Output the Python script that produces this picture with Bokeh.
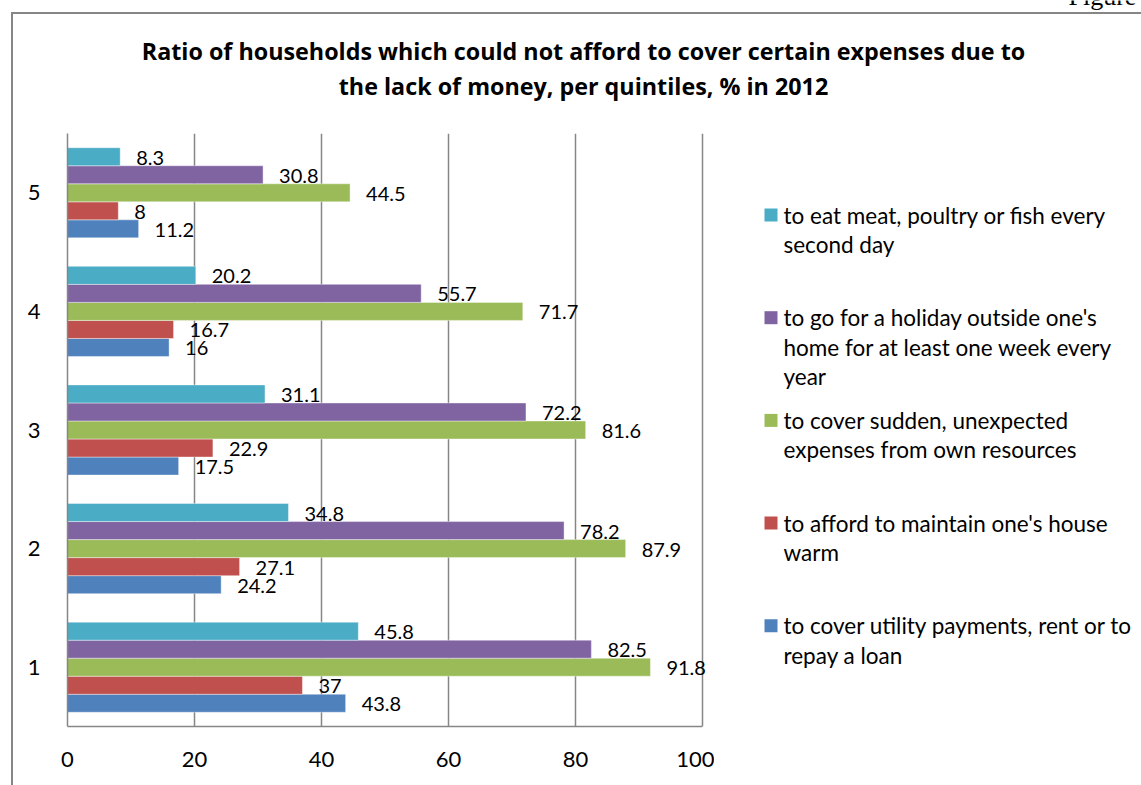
from bokeh.plotting import figure
from bokeh.layouts import column, row
from bokeh.models import Range1d, LabelSet, ColumnDataSource
from bokeh.transform import dodge
from bokeh.core.properties import value
from bokeh.embed import file_html
from bokeh.resources import INLINE

# ---- data ----
quintiles = [1, 2, 3, 4, 5]
quintile_labels = ["1", "2", "3", "4", "5"]
utility = [43.8, 24.2, 17.5, 16, 11.2]
warm = [37, 27.1, 22.9, 16.7, 8]
sudden = [91.8, 87.9, 81.6, 71.7, 44.5]
holiday = [82.5, 78.2, 72.2, 55.7, 30.8]
meat = [45.8, 34.8, 31.1, 20.2, 8.3]
x_ticks = [0, 20, 40, 60, 80, 100]

series = [utility, warm, sudden, holiday, meat]
series_names = [
    "to cover utility payments, rent or to\nrepay a loan",
    "to afford to maintain one's house\nwarm",
    "to cover sudden, unexpected\nexpenses from own resources",
    "to go for a holiday outside one's\nhome for at least one week every\nyear",
    "to eat meat, poultry or fish every\nsecond day",
]
colors = ["#4F81BD", "#C0504D", "#9BBB59", "#8064A2", "#4BACC6"]
title_lines = ["Ratio of households which could not afford to cover certain expenses due to",
               "the lack of money, per quintiles, % in 2012"]
page_text = "Figure"

FONT = "Lato"
TITLE_FONT = "Open Sans"
GRAY = "#868686"

# ---- layout (pixels) ----
W, H = 1141, 785
PLOT_L, PLOT_R, PLOT_T, PLOT_B = 67, 702, 133, 726
EXTRA_R = 12                       # room so value labels near 100 are not clipped
px_per_unit = (PLOT_R - PLOT_L) / 100.0
frame_w = PLOT_R - PLOT_L + EXTRA_R
chart_w = PLOT_L + frame_w
frame_h = PLOT_B - PLOT_T


def bare(x0, x1, y0, y1, **kw):
    f = figure(x_range=Range1d(x0, x1), y_range=Range1d(y0, y1),
               x_axis_type=None, y_axis_type=None, title=None,
               output_backend="svg", toolbar_location=None, **kw)
    f.outline_line_color = None
    f.background_fill_color = None
    f.border_fill_color = None
    f.xgrid.visible = False
    f.ygrid.visible = False
    return f


# ---- header: title (pixel coordinates, y downwards) ----
head = bare(0, W, PLOT_T, 0, frame_width=W, frame_height=PLOT_T, min_border=0)
TITLE_CX, TITLE_Y0, TITLE_DY = 583, 50, 35
head.text(x=[TITLE_CX] * len(title_lines),
          y=[TITLE_Y0 + TITLE_DY * k for k in range(len(title_lines))],
          text=title_lines, text_align="center", text_baseline="middle",
          text_font=value(TITLE_FONT), text_font_style="bold", text_font_size="23.3px",
          text_color="black")
head.text(x=[1068], y=[10], text=[page_text], text_align="left", text_baseline="bottom",
          text_font=value("Liberation Serif"), text_font_size="26px", text_color="black")

# ---- chart ----
p = figure(frame_width=frame_w, frame_height=frame_h, title=None,
           min_border_left=PLOT_L, min_border_right=0,
           min_border_top=0, min_border_bottom=H - PLOT_B,
           x_range=Range1d(0, 100 + EXTRA_R / px_per_unit), y_range=Range1d(0.5, 5.5),
           output_backend="svg", toolbar_location=None)
p.outline_line_color = None
p.background_fill_color = None
p.border_fill_color = None

bar_h = 0.152
for i, (vals, col) in enumerate(zip(series, colors)):
    off = (i - 2) * bar_h
    src = ColumnDataSource(dict(q=quintiles, v=vals, t=[f"{v:g}" for v in vals]))
    p.hbar(y=dodge("q", off), left=0, right="v", height=bar_h, source=src,
           fill_color=col, line_color="white", line_alpha=0.5, line_width=0.8)
    p.add_layout(LabelSet(x="v", y=dodge("q", off), text="t", source=src,
                          x_offset=16, y_offset=-1, text_baseline="middle",
                          text_font=value(FONT), text_font_size="20px", text_color="black"))

p.xaxis.ticker = x_ticks
p.xaxis.bounds = (0, 100)
p.yaxis.ticker = quintiles
p.yaxis.major_label_overrides = {q: l for q, l in zip(quintiles, quintile_labels)}
for ax in (p.xaxis[0], p.yaxis[0]):
    ax.axis_line_color = GRAY
    ax.axis_line_width = 1.5
    ax.major_tick_line_color = None
    ax.minor_tick_line_color = None
    ax.major_label_text_font = FONT
    ax.major_label_text_font_size = "22px"
    ax.major_label_text_color = "black"
p.xaxis.major_label_standoff = 19
p.yaxis.major_label_standoff = 21
p.xgrid.grid_line_color = GRAY
p.xgrid.grid_line_width = 1.5
p.ygrid.grid_line_color = None

# ---- legend panel (pixel coordinates, y downwards; frame aligned with the chart's) ----
leg = bare(chart_w, W, PLOT_B, PLOT_T, frame_width=W - chart_w, frame_height=frame_h,
           min_border_left=0, min_border_right=0, min_border_top=0,
           min_border_bottom=H - PLOT_B)
LEG_SQ_X, LEG_TXT_X, LEG_Y0, LEG_PITCH, LEG_LINE, LEG_SQ = 770.5, 783, 214.5, 102.7, 29.5, 13
order = list(reversed(range(len(series))))          # top entry first
leg.rect(x=[LEG_SQ_X] * len(order), y=[LEG_Y0 + k * LEG_PITCH for k in range(len(order))],
         width=LEG_SQ, height=LEG_SQ, fill_color=[colors[i] for i in order], line_color=None)
tx, ty, tt = [], [], []
for k, i in enumerate(order):
    for j, line in enumerate(series_names[i].split("\n")):
        tx.append(LEG_TXT_X)
        ty.append(LEG_Y0 + k * LEG_PITCH + j * LEG_LINE)
        tt.append(line)
leg.text(x=tx, y=ty, text=tt, text_align="left", text_baseline="middle",
         text_font=value(FONT), text_font_size="22.5px", text_color="black")

layout = column(head, row(p, leg, spacing=0), spacing=0)
# outer chart border (its left and top edges are visible in the window)
layout.styles = {"background": (f"linear-gradient({GRAY},{GRAY}) 11px 12px / 2px 3000px no-repeat, "
                                f"linear-gradient({GRAY},{GRAY}) 11px 12px / 3000px 2px no-repeat, #ffffff")}

open("out.html", "w").write(file_html(layout, INLINE))
